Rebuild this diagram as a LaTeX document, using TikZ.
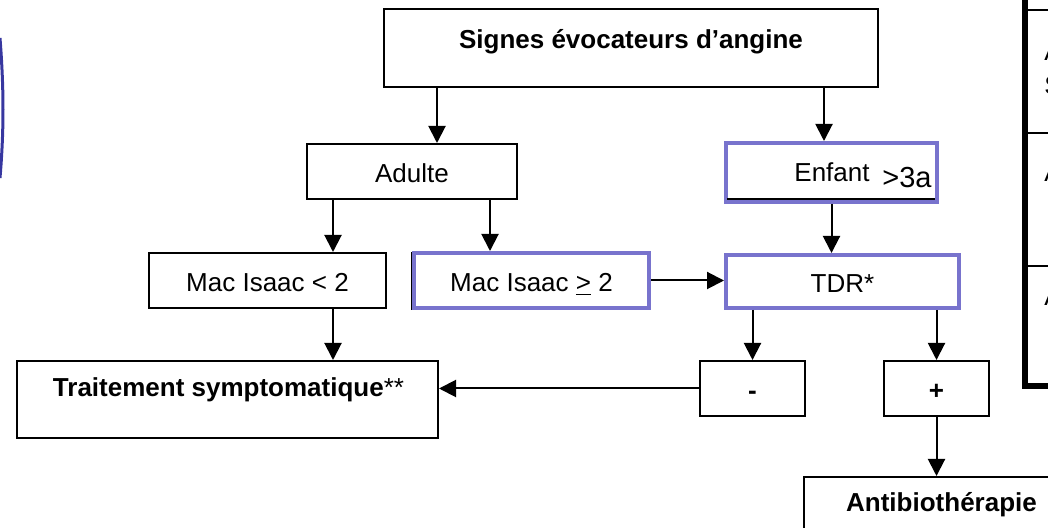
\documentclass[tikz,border=0pt]{standalone}
\usepackage{fontspec}
\setmainfont{Liberation Sans}
\usepackage{xcolor}
\usetikzlibrary{arrows,arrows.meta}
\usetikzlibrary{calc}
\tikzset{>={Triangle[length=8.5pt,width=8.5pt]}}
\definecolor{myviolet}{RGB}{120,115,205}
\definecolor{mynavy}{RGB}{55,55,160}
\tikzset{
  box/.style={draw,line width=1pt,inner sep=0pt,text height=12pt,text depth=1.2pt,font=\fontsize{13}{15}\selectfont},
  bluebox/.style={box,draw=myviolet,line width=2pt},
  txt/.style={inner sep=0pt,font=\fontsize{13}{15}\selectfont},
}

\begin{document}
\begin{tikzpicture}[x=0.5pt,y=-0.5pt]
  \clip (0,0) rectangle (1048,528);

  % LEFT ARC AND TABLE
  \draw[mynavy,line width=1.5pt] (0,38) .. controls (4,90) and (4,130) .. (0,178);
  \draw[line width=3pt] (1025,-5) -- (1025,386) -- (1055,386);
  \draw[line width=1pt] (1027,10) -- (1055,10);
  \draw[line width=1pt] (1022,133) -- (1055,133);
  \draw[line width=1pt] (1022,266) -- (1055,266);
  \node[txt,anchor=west] (ta) at (1044,52) {A};
  \node[txt,anchor=west] (ts) at (1044,86) {S};
  \node[txt,anchor=west] (tb) at (1044,173) {A};
  \node[txt,anchor=west] (tc) at (1044,297) {A};

  % BOXES
  \node[box,minimum width=247pt,minimum height=39pt] (signes) at (631,48) {};
  \node[txt,font=\fontsize{13}{15}\selectfont\bfseries] (signestxt) at (631,42) {Signes évocateurs d’angine};
  \node[box,minimum width=105pt,minimum height=27.5pt] (adulte) at (412,171.5) {Adulte};
  \node[bluebox,minimum width=105.5pt,minimum height=29.5pt] (enfant) at (831.5,172.5) {};
  \draw[line width=1pt] (727,199) -- (935,199);
  \node[txt] (enfanttxt) at (832,172) {Enfant};
  \node[txt,font=\fontsize{14.5}{16}\selectfont] (agetxt) at (907,178) {>3a};
  \node[box,minimum width=118.5pt,minimum height=27.5pt] (macinf) at (267.5,280.5) {Mac Isaac < 2};
  \draw[line width=1pt] (411.5,252) -- (411.5,310);
  \node[bluebox,minimum width=117.5pt,minimum height=27.5pt] (macsup) at (531.5,280.5) {Mac Isaac \underline{>} 2};
  \node[bluebox,minimum width=116.5pt,minimum height=26.5pt] (tdr) at (842.5,281.5) {TDR*};
  \node[box,minimum width=52.5pt,minimum height=27.5pt,font=\fontsize{13}{15}\selectfont\bfseries] (moins) at (752.5,388.5) {-};
  \node[box,minimum width=52.5pt,minimum height=27.5pt,font=\fontsize{13}{15}\selectfont\bfseries] (plus) at (936.5,388.5) {+};
  \node[box,minimum width=210.5pt,minimum height=38.5pt] (traitement) at (227.5,399.5) {};
  \node[txt] (traitementtxt) at (228.5,390) {\bfseries Traitement symptomatique\mdseries**};
  \node[box,minimum width=148pt,minimum height=41.5pt] (antibio) at (952,518.5) {};
  \node[txt,font=\fontsize{13}{15}\selectfont\bfseries] (antibiotxt) at (941.5,505) {Antibiothérapie};

  % ARROWS
  \coordinate (c1) at (333,0);
  \coordinate (c2) at (490,0);
  \coordinate (c3) at (437,0);
  \coordinate (c4) at (824,0);
  \draw[->,line width=1pt] (signes.south -| c3) -- (adulte.north -| c3);
  \draw[->,line width=1pt] (signes.south -| c4) -- (enfant.north -| c4);
  \draw[->,line width=1pt] (adulte.south -| c1) -- (macinf.north -| c1);
  \draw[->,line width=1pt] (adulte.south -| c2) -- (macsup.north -| c2);
  \draw[->,line width=1pt] (macinf.south -| c1) -- (traitement.north -| c1);
  \draw[->,line width=1pt] (macsup.east) -- (macsup.east -| tdr.west);
  \draw[->,line width=1pt] (enfant.south) -- (enfant.south |- tdr.north);
  \draw[->,line width=1pt] (tdr.south -| moins.north) -- (moins.north);
  \draw[->,line width=1pt] (tdr.south -| plus.north) -- (plus.north);
  \draw[->,line width=1pt] (moins.west) -- (moins.west -| traitement.east);
  \draw[->,line width=1pt] (plus.south) -- (plus.south |- antibio.north);

\end{tikzpicture}
\end{document}
